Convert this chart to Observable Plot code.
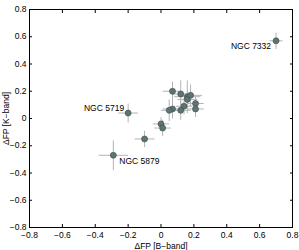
<!DOCTYPE html>
<html><head><meta charset="utf-8">
<script src="https://cdn.jsdelivr.net/npm/d3@7"></script>
<script src="https://cdn.jsdelivr.net/npm/@observablehq/plot@0.6"></script>
<style>body{margin:0;background:#fff;font-family:"Liberation Sans",Arial,sans-serif}</style>
</head><body><div id="chart"></div>
<script>
const names = ["NGC 7332","NGC 5719","NGC 5879","","","","","","","","","","","","","",""];
const dB   = [0.70,-0.20,-0.29,-0.10,0.00,0.01,0.07,0.12,0.16,0.18,0.16,0.21,0.21,0.14,0.12,0.07,0.05];
const dK   = [0.57, 0.04,-0.27,-0.15,-0.04,-0.07,0.20,0.18,0.16,0.17,0.14,0.11,0.07,0.09,0.06,0.07,0.06];
const errB = [0.04,0.06,0.09,0.06,0.05,0.05,0.06,0.05,0.08,0.07,0.06,0.05,0.05,0.05,0.06,0.06,0.05];
const errK = [0.06,0.07,0.11,0.06,0.05,0.06,0.07,0.10,0.12,0.08,0.06,0.05,0.06,0.06,0.07,0.07,0.08];
const ticks = [-0.8,-0.6,-0.4,-0.2,0,0.2,0.4,0.6,0.8];

const data = dB.map((x,i)=>({x, y:dK[i], ex:errB[i], ey:errK[i], name:names[i]}));
const fmt = d => d === 0 ? "0" : d3.format(".1f")(d);
const labelOpts = {
  "NGC 7332": {dx:-5, dy:5, textAnchor:"end"},
  "NGC 5719": {dx:-4, dy:-5, textAnchor:"end"},
  "NGC 5879": {dx:6, dy:6, textAnchor:"start"}
};

const chart = Plot.plot({
  width: 299, height: 250,
  marginLeft: 29, marginRight: 7, marginTop: 9, marginBottom: 23,
  style: {fontFamily: "Liberation Sans, Arial, sans-serif", fontSize: "8.5px", color: "#000", background: "#fff"},
  x: {domain: [-0.8, 0.8], ticks, tickFormat: fmt},
  y: {domain: [-0.8, 0.8], ticks, tickFormat: fmt},
  marks: [
    Plot.link(data, {x1: d=>d.x-d.ex, x2: d=>d.x+d.ex, y1:"y", y2:"y", stroke:"#b4b4b4", strokeWidth:1}),
    Plot.link(data, {x1:"x", x2:"x", y1: d=>d.y-d.ey, y2: d=>d.y+d.ey, stroke:"#b4b4b4", strokeWidth:1}),
    Plot.dot(data, {x:"x", y:"y", r:3, fill:"#5d7474", stroke:"#3a4a4a", strokeWidth:0.6}),
    ...Object.entries(labelOpts).map(([n,o]) =>
      Plot.text(data.filter(d=>d.name===n), {x:"x", y:"y", text:"name", fontSize:8.5, fill:"#000", ...o})),
    Plot.frame({stroke:"#000", strokeWidth:1}),
    Plot.axisX({ticks, tickFormat: fmt, tickSize:-3, tickPadding:7, label:"ΔFP [B−band]", labelAnchor:"center", labelArrow:"none", labelOffset:21}),
    Plot.axisX({ticks, anchor:"top", tickSize:-3, tickFormat:()=>"", label:null}),
    Plot.axisY({ticks, tickFormat: fmt, tickSize:-3, tickPadding:6, label:"ΔFP [K−band]", labelAnchor:"center", labelArrow:"none", labelOffset:27}),
    Plot.axisY({ticks, anchor:"right", tickSize:-3, tickFormat:()=>"", label:null})
  ]
});
document.getElementById("chart").appendChild(chart);
</script></body></html>
